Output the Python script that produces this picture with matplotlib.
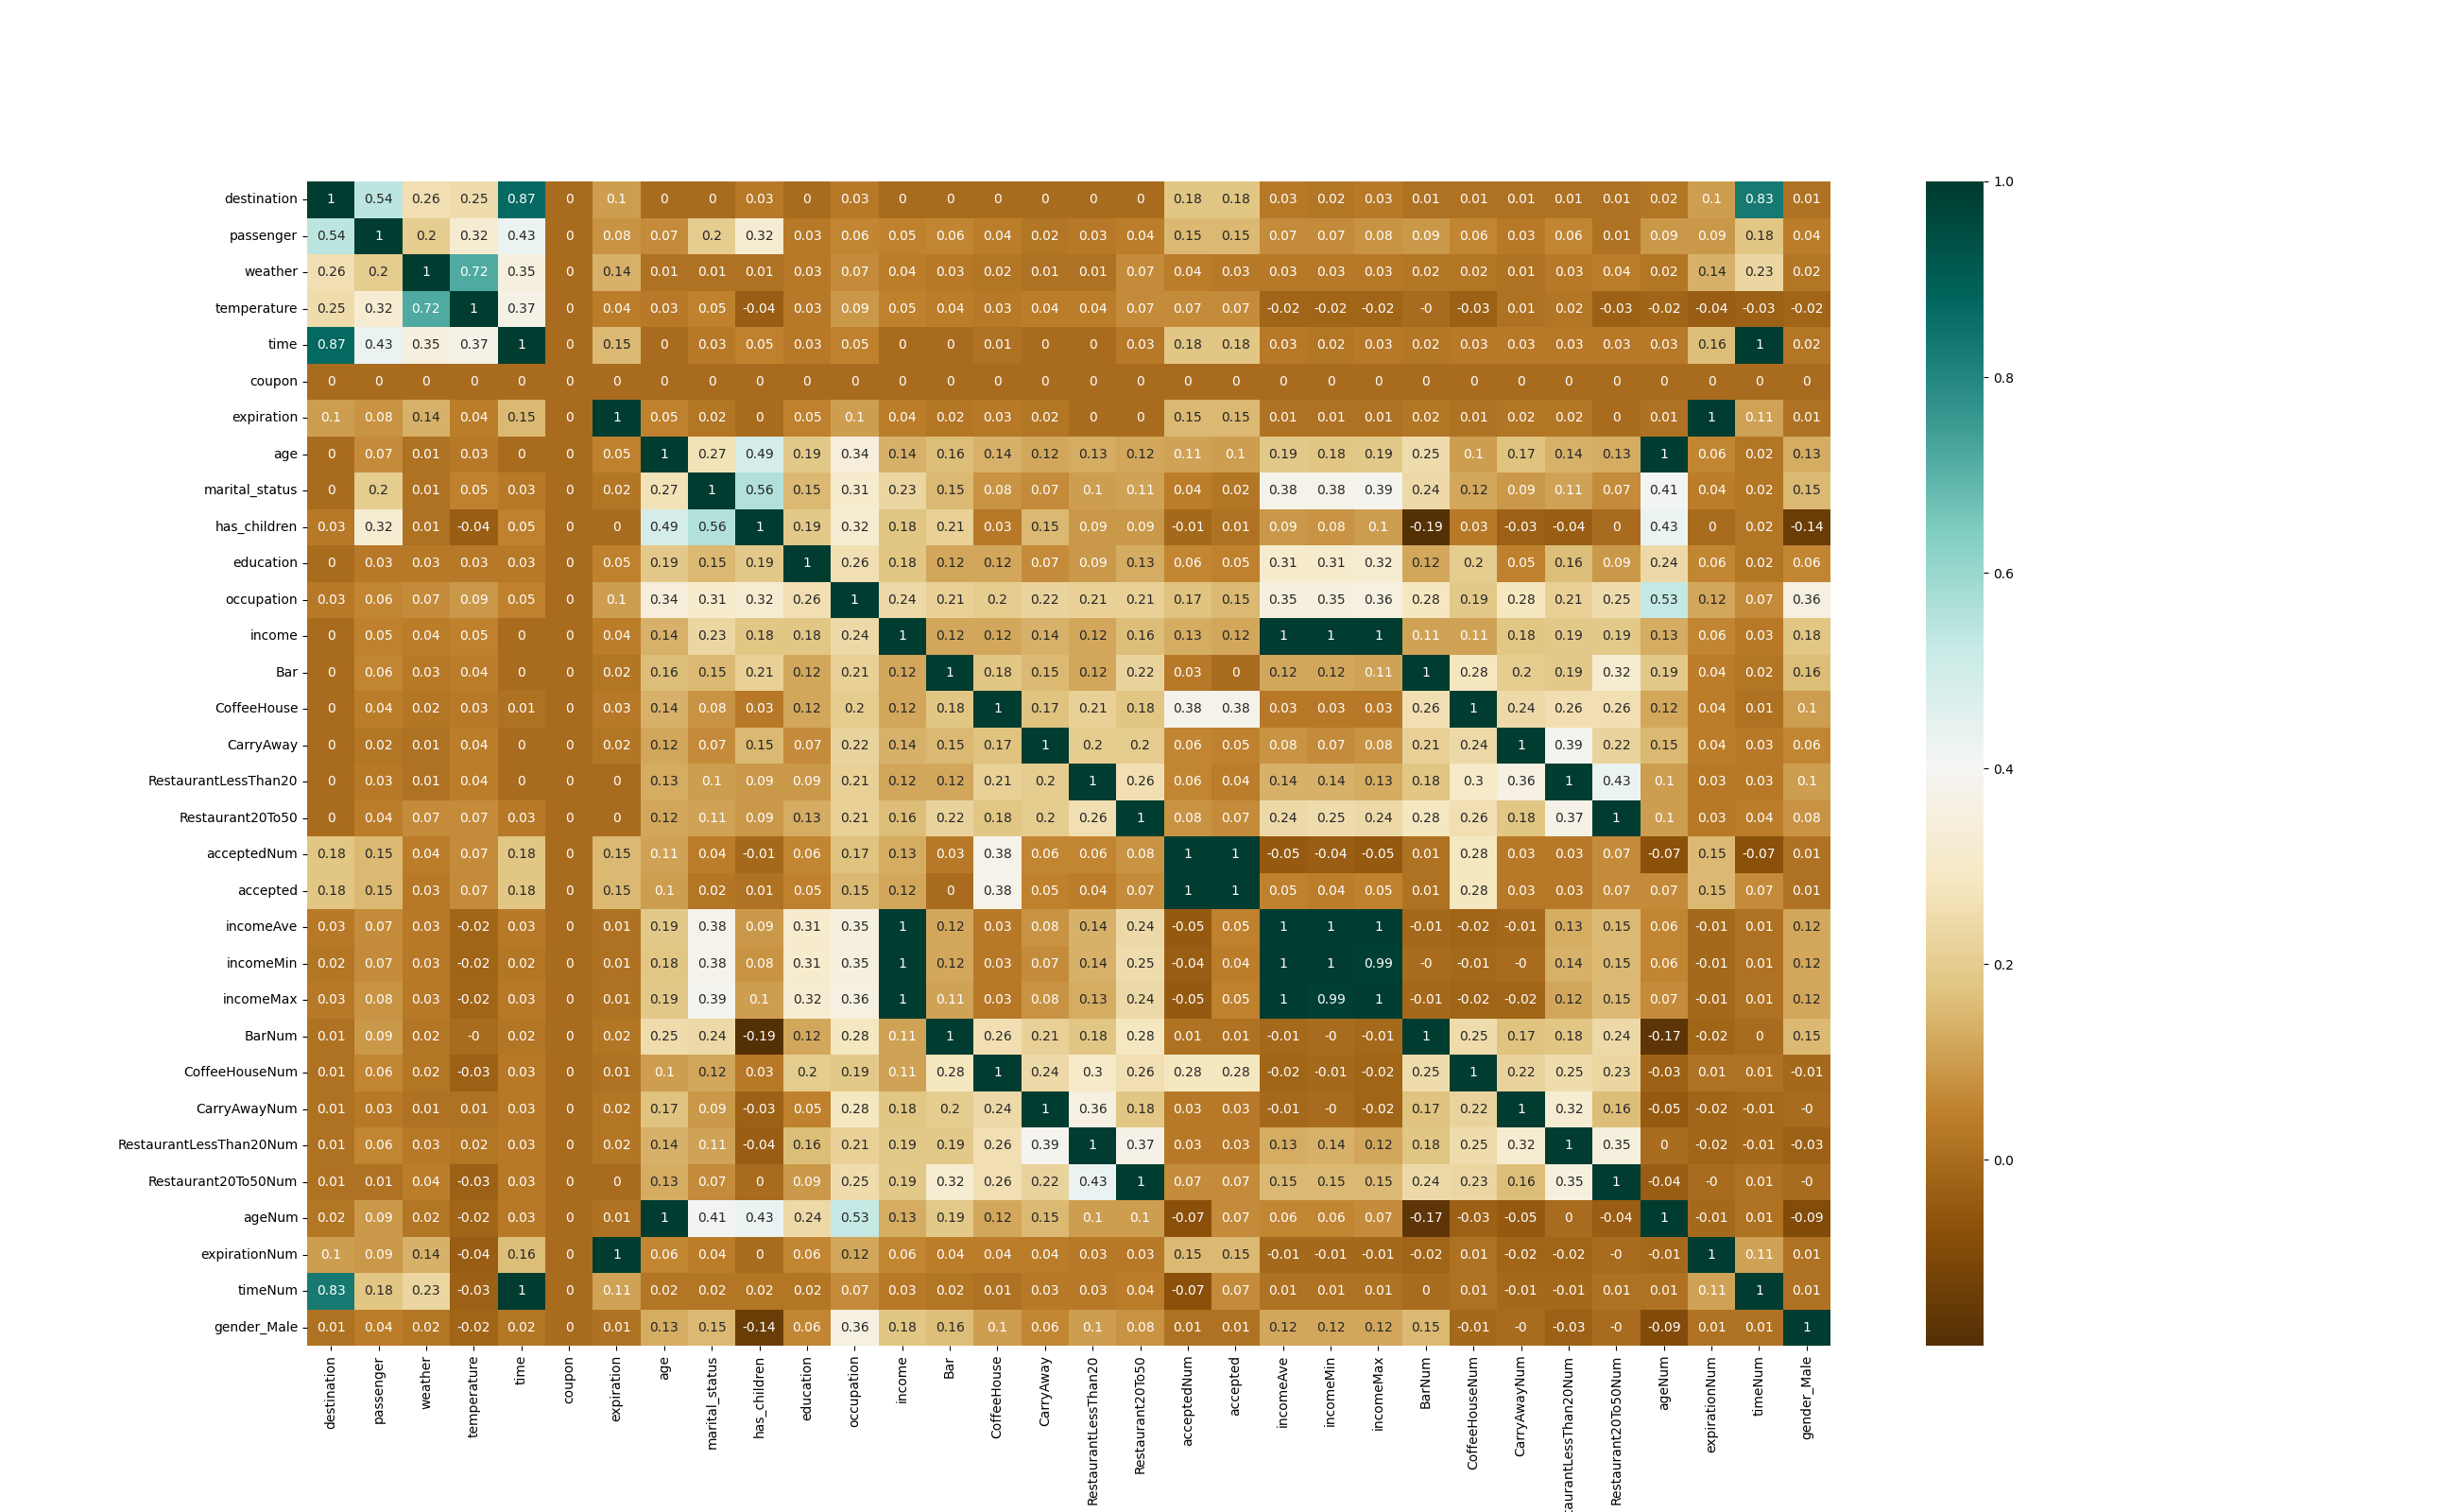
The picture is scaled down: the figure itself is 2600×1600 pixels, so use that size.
import numpy as np
import pandas as pd
import matplotlib
matplotlib.use("Agg")
import matplotlib.pyplot as plt
import seaborn as sns

labels = ["destination", "passenger", "weather", "temperature", "time", "coupon",
          "expiration", "age", "marital_status", "has_children", "education",
          "occupation", "income", "Bar", "CoffeeHouse", "CarryAway",
          "RestaurantLessThan20", "Restaurant20To50", "acceptedNum", "accepted",
          "incomeAve", "incomeMin", "incomeMax", "BarNum", "CoffeeHouseNum",
          "CarryAwayNum", "RestaurantLessThan20Num", "Restaurant20To50Num",
          "ageNum", "expirationNum", "timeNum", "gender_Male"]

# korelace, řádek po řádku
destination = [1, 0.54, 0.26, 0.25, 0.87, 0, 0.1, 0, 0, 0.03, 0, 0.03, 0, 0, 0, 0,
               0, 0, 0.18, 0.18, 0.03, 0.02, 0.03, 0.01, 0.01, 0.01, 0.01, 0.01, 0.02, 0.1, 0.83, 0.01]
passenger = [0.54, 1, 0.2, 0.32, 0.43, 0, 0.08, 0.07, 0.2, 0.32, 0.03, 0.06, 0.05, 0.06, 0.04, 0.02,
             0.03, 0.04, 0.15, 0.15, 0.07, 0.07, 0.08, 0.09, 0.06, 0.03, 0.06, 0.01, 0.09, 0.09, 0.18, 0.04]
weather = [0.26, 0.2, 1, 0.72, 0.35, 0, 0.14, 0.01, 0.01, 0.01, 0.03, 0.07, 0.04, 0.03, 0.02, 0.01,
           0.01, 0.07, 0.04, 0.03, 0.03, 0.03, 0.03, 0.02, 0.02, 0.01, 0.03, 0.04, 0.02, 0.14, 0.23, 0.02]
temperature = [0.25, 0.32, 0.72, 1, 0.37, 0, 0.04, 0.03, 0.05, -0.04, 0.03, 0.09, 0.05, 0.04, 0.03, 0.04,
               0.04, 0.07, 0.07, 0.07, -0.02, -0.02, -0.02, -0.0, -0.03, 0.01, 0.02, -0.03, -0.02, -0.04, -0.03, -0.02]
time = [0.87, 0.43, 0.35, 0.37, 1, 0, 0.15, 0, 0.03, 0.05, 0.03, 0.05, 0, 0, 0.01, 0,
        0, 0.03, 0.18, 0.18, 0.03, 0.02, 0.03, 0.02, 0.03, 0.03, 0.03, 0.03, 0.03, 0.16, 1, 0.02]
coupon = [0] * 32
expiration = [0.1, 0.08, 0.14, 0.04, 0.15, 0, 1, 0.05, 0.02, 0, 0.05, 0.1, 0.04, 0.02, 0.03, 0.02,
              0, 0, 0.15, 0.15, 0.01, 0.01, 0.01, 0.02, 0.01, 0.02, 0.02, 0, 0.01, 1, 0.11, 0.01]
age = [0, 0.07, 0.01, 0.03, 0, 0, 0.05, 1, 0.27, 0.49, 0.19, 0.34, 0.14, 0.16, 0.14, 0.12,
       0.13, 0.12, 0.11, 0.1, 0.19, 0.18, 0.19, 0.25, 0.1, 0.17, 0.14, 0.13, 1, 0.06, 0.02, 0.13]
marital_status = [0, 0.2, 0.01, 0.05, 0.03, 0, 0.02, 0.27, 1, 0.56, 0.15, 0.31, 0.23, 0.15, 0.08, 0.07,
                  0.1, 0.11, 0.04, 0.02, 0.38, 0.38, 0.39, 0.24, 0.12, 0.09, 0.11, 0.07, 0.41, 0.04, 0.02, 0.15]
has_children = [0.03, 0.32, 0.01, -0.04, 0.05, 0, 0, 0.49, 0.56, 1, 0.19, 0.32, 0.18, 0.21, 0.03, 0.15,
                0.09, 0.09, -0.01, 0.01, 0.09, 0.08, 0.1, -0.19, 0.03, -0.03, -0.04, 0, 0.43, 0, 0.02, -0.14]
education = [0, 0.03, 0.03, 0.03, 0.03, 0, 0.05, 0.19, 0.15, 0.19, 1, 0.26, 0.18, 0.12, 0.12, 0.07,
             0.09, 0.13, 0.06, 0.05, 0.31, 0.31, 0.32, 0.12, 0.2, 0.05, 0.16, 0.09, 0.24, 0.06, 0.02, 0.06]
occupation = [0.03, 0.06, 0.07, 0.09, 0.05, 0, 0.1, 0.34, 0.31, 0.32, 0.26, 1, 0.24, 0.21, 0.2, 0.22,
              0.21, 0.21, 0.17, 0.15, 0.35, 0.35, 0.36, 0.28, 0.19, 0.28, 0.21, 0.25, 0.53, 0.12, 0.07, 0.36]
income = [0, 0.05, 0.04, 0.05, 0, 0, 0.04, 0.14, 0.23, 0.18, 0.18, 0.24, 1, 0.12, 0.12, 0.14,
          0.12, 0.16, 0.13, 0.12, 1, 1, 1, 0.11, 0.11, 0.18, 0.19, 0.19, 0.13, 0.06, 0.03, 0.18]
bar = [0, 0.06, 0.03, 0.04, 0, 0, 0.02, 0.16, 0.15, 0.21, 0.12, 0.21, 0.12, 1, 0.18, 0.15,
       0.12, 0.22, 0.03, 0, 0.12, 0.12, 0.11, 1, 0.28, 0.2, 0.19, 0.32, 0.19, 0.04, 0.02, 0.16]
coffeehouse = [0, 0.04, 0.02, 0.03, 0.01, 0, 0.03, 0.14, 0.08, 0.03, 0.12, 0.2, 0.12, 0.18, 1, 0.17,
               0.21, 0.18, 0.38, 0.38, 0.03, 0.03, 0.03, 0.26, 1, 0.24, 0.26, 0.26, 0.12, 0.04, 0.01, 0.1]
carryaway = [0, 0.02, 0.01, 0.04, 0, 0, 0.02, 0.12, 0.07, 0.15, 0.07, 0.22, 0.14, 0.15, 0.17, 1,
             0.2, 0.2, 0.06, 0.05, 0.08, 0.07, 0.08, 0.21, 0.24, 1, 0.39, 0.22, 0.15, 0.04, 0.03, 0.06]
rest_lt20 = [0, 0.03, 0.01, 0.04, 0, 0, 0, 0.13, 0.1, 0.09, 0.09, 0.21, 0.12, 0.12, 0.21, 0.2,
             1, 0.26, 0.06, 0.04, 0.14, 0.14, 0.13, 0.18, 0.3, 0.36, 1, 0.43, 0.1, 0.03, 0.03, 0.1]
rest_20to50 = [0, 0.04, 0.07, 0.07, 0.03, 0, 0, 0.12, 0.11, 0.09, 0.13, 0.21, 0.16, 0.22, 0.18, 0.2,
               0.26, 1, 0.08, 0.07, 0.24, 0.25, 0.24, 0.28, 0.26, 0.18, 0.37, 1, 0.1, 0.03, 0.04, 0.08]
accepted_num = [0.18, 0.15, 0.04, 0.07, 0.18, 0, 0.15, 0.11, 0.04, -0.01, 0.06, 0.17, 0.13, 0.03, 0.38, 0.06,
                0.06, 0.08, 1, 1, -0.05, -0.04, -0.05, 0.01, 0.28, 0.03, 0.03, 0.07, -0.07, 0.15, -0.07, 0.01]
accepted = [0.18, 0.15, 0.03, 0.07, 0.18, 0, 0.15, 0.1, 0.02, 0.01, 0.05, 0.15, 0.12, 0, 0.38, 0.05,
            0.04, 0.07, 1, 1, 0.05, 0.04, 0.05, 0.01, 0.28, 0.03, 0.03, 0.07, 0.07, 0.15, 0.07, 0.01]
income_ave = [0.03, 0.07, 0.03, -0.02, 0.03, 0, 0.01, 0.19, 0.38, 0.09, 0.31, 0.35, 1, 0.12, 0.03, 0.08,
              0.14, 0.24, -0.05, 0.05, 1, 1, 1, -0.01, -0.02, -0.01, 0.13, 0.15, 0.06, -0.01, 0.01, 0.12]
income_min = [0.02, 0.07, 0.03, -0.02, 0.02, 0, 0.01, 0.18, 0.38, 0.08, 0.31, 0.35, 1, 0.12, 0.03, 0.07,
              0.14, 0.25, -0.04, 0.04, 1, 1, 0.99, -0.0, -0.01, -0.0, 0.14, 0.15, 0.06, -0.01, 0.01, 0.12]
income_max = [0.03, 0.08, 0.03, -0.02, 0.03, 0, 0.01, 0.19, 0.39, 0.1, 0.32, 0.36, 1, 0.11, 0.03, 0.08,
              0.13, 0.24, -0.05, 0.05, 1, 0.99, 1, -0.01, -0.02, -0.02, 0.12, 0.15, 0.07, -0.01, 0.01, 0.12]
bar_num = [0.01, 0.09, 0.02, -0.0, 0.02, 0, 0.02, 0.25, 0.24, -0.19, 0.12, 0.28, 0.11, 1, 0.26, 0.21,
           0.18, 0.28, 0.01, 0.01, -0.01, -0.0, -0.01, 1, 0.25, 0.17, 0.18, 0.24, -0.17, -0.02, 0, 0.15]
coffee_num = [0.01, 0.06, 0.02, -0.03, 0.03, 0, 0.01, 0.1, 0.12, 0.03, 0.2, 0.19, 0.11, 0.28, 1, 0.24,
              0.3, 0.26, 0.28, 0.28, -0.02, -0.01, -0.02, 0.25, 1, 0.22, 0.25, 0.23, -0.03, 0.01, 0.01, -0.01]
carry_num = [0.01, 0.03, 0.01, 0.01, 0.03, 0, 0.02, 0.17, 0.09, -0.03, 0.05, 0.28, 0.18, 0.2, 0.24, 1,
             0.36, 0.18, 0.03, 0.03, -0.01, -0.0, -0.02, 0.17, 0.22, 1, 0.32, 0.16, -0.05, -0.02, -0.01, -0.0]
rest_lt20_num = [0.01, 0.06, 0.03, 0.02, 0.03, 0, 0.02, 0.14, 0.11, -0.04, 0.16, 0.21, 0.19, 0.19, 0.26, 0.39,
                 1, 0.37, 0.03, 0.03, 0.13, 0.14, 0.12, 0.18, 0.25, 0.32, 1, 0.35, 0, -0.02, -0.01, -0.03]
rest_20to50_num = [0.01, 0.01, 0.04, -0.03, 0.03, 0, 0, 0.13, 0.07, 0, 0.09, 0.25, 0.19, 0.32, 0.26, 0.22,
                   0.43, 1, 0.07, 0.07, 0.15, 0.15, 0.15, 0.24, 0.23, 0.16, 0.35, 1, -0.04, -0.0, 0.01, -0.0]
age_num = [0.02, 0.09, 0.02, -0.02, 0.03, 0, 0.01, 1, 0.41, 0.43, 0.24, 0.53, 0.13, 0.19, 0.12, 0.15,
           0.1, 0.1, -0.07, 0.07, 0.06, 0.06, 0.07, -0.17, -0.03, -0.05, 0, -0.04, 1, -0.01, 0.01, -0.09]
expiration_num = [0.1, 0.09, 0.14, -0.04, 0.16, 0, 1, 0.06, 0.04, 0, 0.06, 0.12, 0.06, 0.04, 0.04, 0.04,
                  0.03, 0.03, 0.15, 0.15, -0.01, -0.01, -0.01, -0.02, 0.01, -0.02, -0.02, -0.0, -0.01, 1, 0.11, 0.01]
time_num = [0.83, 0.18, 0.23, -0.03, 1, 0, 0.11, 0.02, 0.02, 0.02, 0.02, 0.07, 0.03, 0.02, 0.01, 0.03,
            0.03, 0.04, -0.07, 0.07, 0.01, 0.01, 0.01, 0, 0.01, -0.01, -0.01, 0.01, 0.01, 0.11, 1, 0.01]
gender_male = [0.01, 0.04, 0.02, -0.02, 0.02, 0, 0.01, 0.13, 0.15, -0.14, 0.06, 0.36, 0.18, 0.16, 0.1, 0.06,
               0.1, 0.08, 0.01, 0.01, 0.12, 0.12, 0.12, 0.15, -0.01, -0.0, -0.03, -0.0, -0.09, 0.01, 0.01, 1]

rows = [destination, passenger, weather, temperature, time, coupon, expiration, age,
        marital_status, has_children, education, occupation, income, bar, coffeehouse,
        carryaway, rest_lt20, rest_20to50, accepted_num, accepted, income_ave, income_min,
        income_max, bar_num, coffee_num, carry_num, rest_lt20_num, rest_20to50_num,
        age_num, expiration_num, time_num, gender_male]

corr = pd.DataFrame(np.array(rows, dtype=float), index=labels, columns=labels)

plt.figure(figsize=(26, 16))
sns.heatmap(corr, annot=True, cmap="BrBG")
plt.savefig("out.png", dpi=100)
